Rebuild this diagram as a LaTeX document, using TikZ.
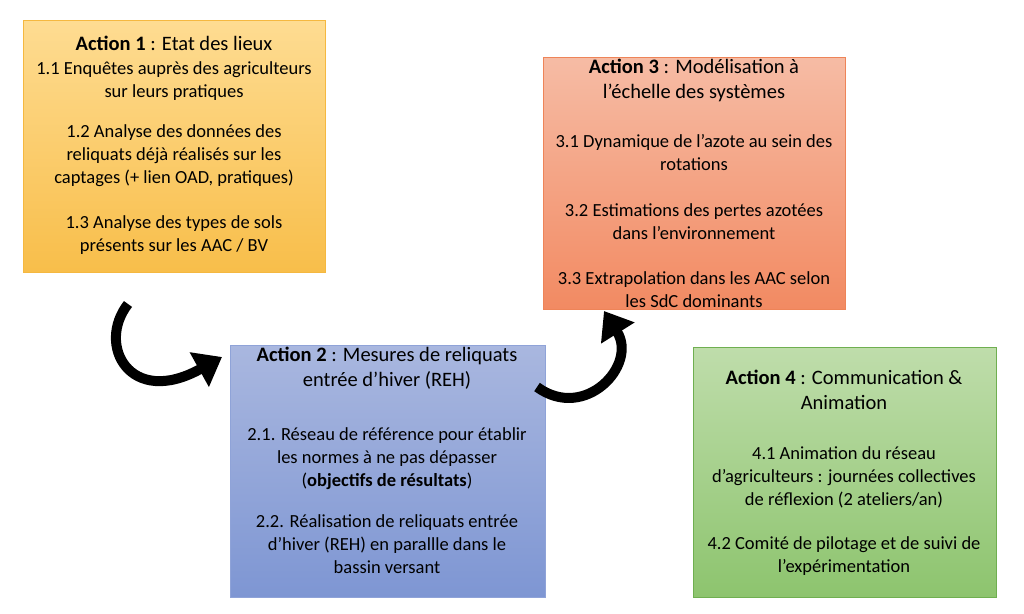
\documentclass[tikz,border=0pt]{standalone}
\usepackage{fontspec}
\setmainfont{Carlito}
\usetikzlibrary{arrows.meta}
\definecolor{oA}{HTML}{FEDC92}\definecolor{oB}{HTML}{F8BE4A}\definecolor{oD}{HTML}{F5B840}
\definecolor{rA}{HTML}{F6BCA5}\definecolor{rB}{HTML}{F28A62}\definecolor{rD}{HTML}{EE8458}
\definecolor{bA}{HTML}{A9B7DF}\definecolor{bB}{HTML}{7E96D3}\definecolor{bD}{HTML}{8FA3D8}
\definecolor{gA}{HTML}{BFDDAB}\definecolor{gB}{HTML}{8DC46E}\definecolor{gD}{HTML}{6FAF50}
\begin{document}
\begin{tikzpicture}[x=1pt,y=-1pt,
  txt/.style={align=center,anchor=north,font=\fontsize{18.5}{23}\selectfont,inner sep=0pt},
  ttl/.style={align=center,anchor=north,font=\fontsize{20.5}{25}\selectfont,inner sep=0pt},
  carrow/.style={line width=10pt,-{Triangle[width=38pt,length=26pt]}}]
\useasboundingbox (0,0) rectangle (1024,613);
\fill[white] (0,0) rectangle (1024,613);
\shade[top color=oA,bottom color=oB,draw=oD] (23,20) rectangle (325,272);
\shade[top color=rA,bottom color=rB,draw=rD] (543,57) rectangle (845,309);
\shade[top color=bA,bottom color=bB,draw=bD] (230,345) rectangle (545,597);
\shade[top color=gA,bottom color=gB,draw=gD] (693,347) rectangle (996,597);
\node[ttl] (t1) at (174,36) {\textbf{Action 1} : Etat des lieux};
\node[txt] (p11) at (174,61) {1.1 Enquêtes auprès des agriculteurs\\sur leurs pratiques};
\node[txt] (p12) at (174,124) {1.2 Analyse des données des\\reliquats déjà réalisés sur les\\captages (+ lien OAD, pratiques)};
\node[txt] (p13) at (174,215) {1.3 Analyse des types de sols\\présents sur les AAC / BV};
\node[ttl] (t3) at (694,59) {\textbf{Action 3} : Modélisation à\\l’échelle des systèmes};
\node[txt] (p31) at (694,134) {3.1 Dynamique de l’azote au sein des\\rotations};
\node[txt] (p32) at (694,203) {3.2 Estimations des pertes azotées\\dans l’environnement};
\node[txt] (p33) at (694,271) {3.3 Extrapolation dans les AAC selon\\les SdC dominants};
\node[ttl] (t2) at (387,347) {\textbf{Action 2} : Mesures de reliquats\\entrée d’hiver (REH)};
\node[txt] (p21) at (387,427) {2.1. Réseau de référence pour établir\\les normes à ne pas dépasser\\(\textbf{objectifs de résultats})};
\node[txt] (p22) at (387,514) {2.2. Réalisation de reliquats entrée\\d’hiver (REH) en parallle dans le\\bassin versant};
\node[ttl] (t4) at (844,370) {\textbf{Action 4} : Communication \&\\Animation};
\node[txt] (p41) at (844,446) {4.1 Animation du réseau\\d’agriculteurs : journées collectives\\de réflexion (2 ateliers/an)};
\node[txt] (p42) at (844,536) {4.2 Comité de pilotage et de suivi de\\l’expérimentation};
\coordinate (a1s) at (128,304);
\coordinate (a1e) at (222,357);
\coordinate (a2s) at (537,387);
\coordinate (a2e) at (604,311);
\draw[carrow] (a1s) .. controls (96,345) and (130,408) .. (a1e);
\draw[carrow] (a2s) .. controls (585,422) and (638,365) .. (a2e);
\end{tikzpicture}
\end{document}
